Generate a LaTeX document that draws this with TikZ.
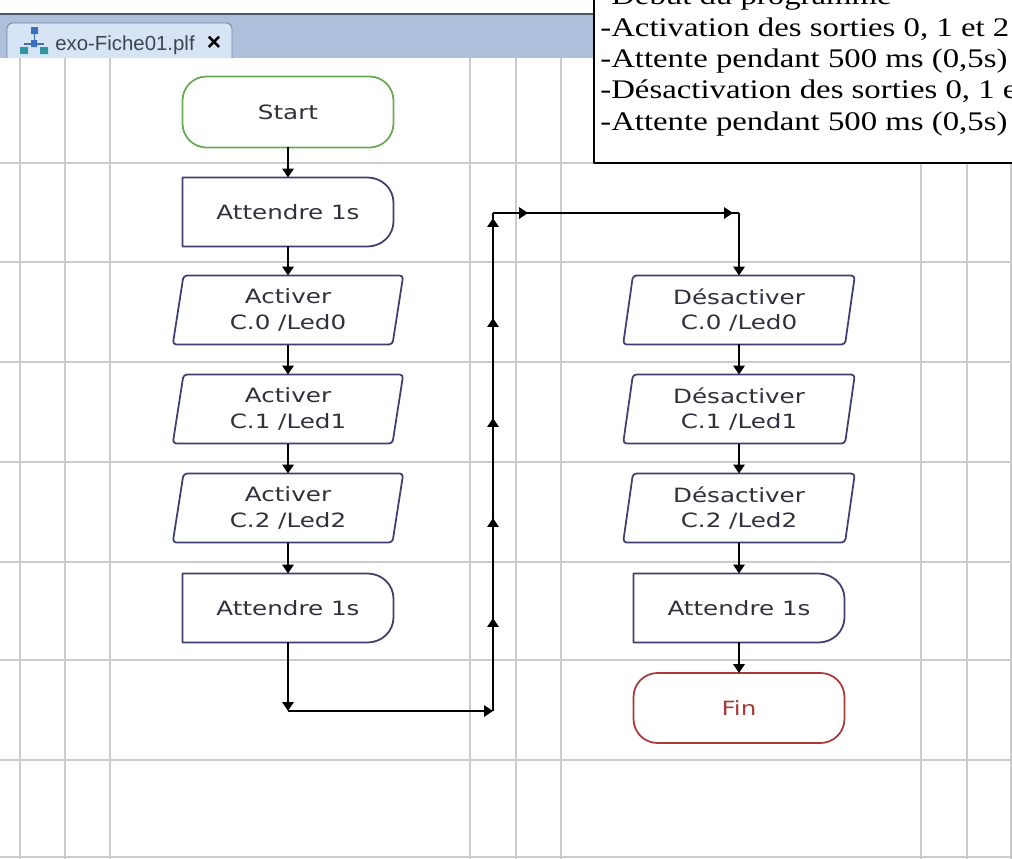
\documentclass[tikz,border=0pt]{standalone}
\usepackage{fontspec}
\setmainfont{Liberation Serif}
\newfontfamily\flowfont[FakeStretch=1.25]{DejaVu Sans}
\newfontfamily\notefont[FakeStretch=1.22]{Liberation Serif}
\newfontfamily\tabfont{Liberation Sans}
\usetikzlibrary{shapes.geometric,arrows.meta,decorations.markings}
\definecolor{gris}{RGB}{204,204,204}
\definecolor{bord}{RGB}{62,62,112}
\definecolor{texte}{RGB}{48,48,62}
\definecolor{vert}{RGB}{104,170,84}
\definecolor{rouge}{RGB}{168,58,58}
\definecolor{barre}{RGB}{172,192,220}
\definecolor{onglet}{RGB}{214,228,245}
\definecolor{filet}{RGB}{75,85,100}
\definecolor{bleu}{RGB}{60,110,190}
\definecolor{canard}{RGB}{50,150,160}
% contour du bloc d'attente (cote droit arrondi)
\newcommand{\attente}[1]{%
  \draw[bordure] (#1.north west) -- ([xshift=-0.52cm]#1.north east)
    arc[start angle=90,end angle=0,x radius=0.52cm,y radius=0.5cm]
    -- ([yshift=0.5cm]#1.south east)
    arc[start angle=0,end angle=-90,x radius=0.52cm,y radius=0.5cm]
    -- (#1.south west) -- cycle;}
\begin{document}
\begin{tikzpicture}[x=0.02cm,y=-0.02cm,line join=round,>={Triangle[length=5pt,width=6.4pt]},
	txt/.style={font=\flowfont\fontsize{11.2}{14.7}\selectfont,text=texte,align=center,inner sep=0pt,outer sep=0pt},
	terminal/.style={txt,draw,line width=1pt,fill=white,rounded corners=0.48cm,minimum width=4.22cm,minimum height=1.42cm},
	delai/.style={txt,minimum width=4.22cm,minimum height=1.38cm},
	sortie/.style={txt,trapezium,trapezium left angle=82,trapezium right angle=98,trapezium stretches=true,draw=bord,line width=1pt,fill=white,rounded corners=2pt,minimum width=4.64cm,minimum height=1.38cm},
	bordure/.style={draw=bord,line width=1pt},
	fleche/.style={->,line width=1pt},
	grille/.style={draw=gris,line width=0.85pt},
	note/.style={font=\notefont\fontsize{15.3}{18}\selectfont,anchor=base west,inner sep=0pt}]
		\useasboundingbox (0,0) rectangle (1012,859);
		\clip (0,0) rectangle (1012,859);
		% onglet de l'editeur
		\fill[barre] (0,15) rectangle (1012,58);
		\draw[filet,line width=1.1pt] (0,14)--(1012,14);
		\filldraw[fill=onglet,draw=barre!70!black,line width=0.5pt,rounded corners=3pt] (7,58) |- (232,23) -- (232,58);
		\fill[bleu] (31,27) rectangle (38,34) (31,40) rectangle (37,47);
		\draw[bleu,line width=0.6pt] (34.5,34)--(34.5,40) (24,44)--(44,44);
		\fill[canard] (20,47) rectangle (28,54) (40,47) rectangle (48,54);
		\node[anchor=base west,inner sep=0pt,font=\tabfont\fontsize{11.6}{13}\selectfont,text=filet!80!black] (fichier) at (55,50) {exo-Fiche01.plf};
		\node[inner sep=0pt,font=\tabfont\bfseries\fontsize{14}{14}\selectfont] (fermer) at (214,43) {×};
		% grille
		\foreach \x in {20,65,110,470,516,561,921,967,1011} \draw[grille] (\x,58)--(\x,859);
		\foreach \y in {163,262,362,462,562,660,760,857} \draw[grille] (0,\y)--(1012,\y);
		% colonne de gauche
		\node[terminal,draw=vert] (start) at (288,112) {Start};
		\node[delai] (att1) at (288,212) {Attendre 1s};
		\node[sortie] (act0) at (288,310) {Activer\\C.0 /Led0};
		\node[sortie] (act1) at (288,409) {Activer\\C.1 /Led1};
		\node[sortie] (act2) at (288,508) {Activer\\C.2 /Led2};
		\node[delai] (att2) at (288,608) {Attendre 1s};
		% colonne de droite
		\node[sortie] (des0) at (739,310) {Désactiver\\C.0 /Led0};
		\node[sortie] (des1) at (739,409) {Désactiver\\C.1 /Led1};
		\node[sortie] (des2) at (739,508) {Désactiver\\C.2 /Led2};
		\node[delai] (att3) at (739,608) {Attendre 1s};
		\node[terminal,draw=rouge,text=rouge,minimum height=1.4cm] (fin) at (739,708) {Fin};
		\attente{att1}\attente{att2}\attente{att3}
		\foreach \a/\b in {start/att1,att1/act0,act0/act1,act1/act2,act2/att2,des0/des1,des1/des2,des2/att3,att3/fin}
			\draw[fleche] (\a.south)--(\b.north);
		% liaison entre les deux colonnes
		\coordinate (b1) at (288,711);
		\coordinate (b2) at (493,711);
		\coordinate (h1) at (493,213);
		\coordinate (h2) at (739,213);
		\draw[fleche] (att2.south)--(b1);
		\draw[fleche] (b1)--(b2);
		\draw[line width=1pt,postaction={decorate},decoration={markings,mark=between positions 1.86cm and 9.9cm step 2cm with {\arrow{>}}}] (b2)--(h1);
		\draw[line width=1pt,postaction={decorate},decoration={markings,mark=at position 0.7cm with {\arrow{>}},mark=at position 4.8cm with {\arrow{>}}}] (h1)--(h2);
		\draw[fleche] (h2)--(des0.north);
		% encadre de texte
		\draw[fill=white,line width=0.7pt] (594,-5) rectangle (1030,163);
		\node[note] (l0) at (600,4.5) {-Début du programme};
		\node[note] (l1) at (600,36) {-Activation des sorties 0, 1 et 2};
		\node[note] (l2) at (600,67) {-Attente pendant 500 ms (0,5s)};
		\node[note] (l3) at (600,98) {-Désactivation des sorties 0, 1 et 2};
		\node[note] (l4) at (600,130) {-Attente pendant 500 ms (0,5s)};
\end{tikzpicture}
\end{document}
